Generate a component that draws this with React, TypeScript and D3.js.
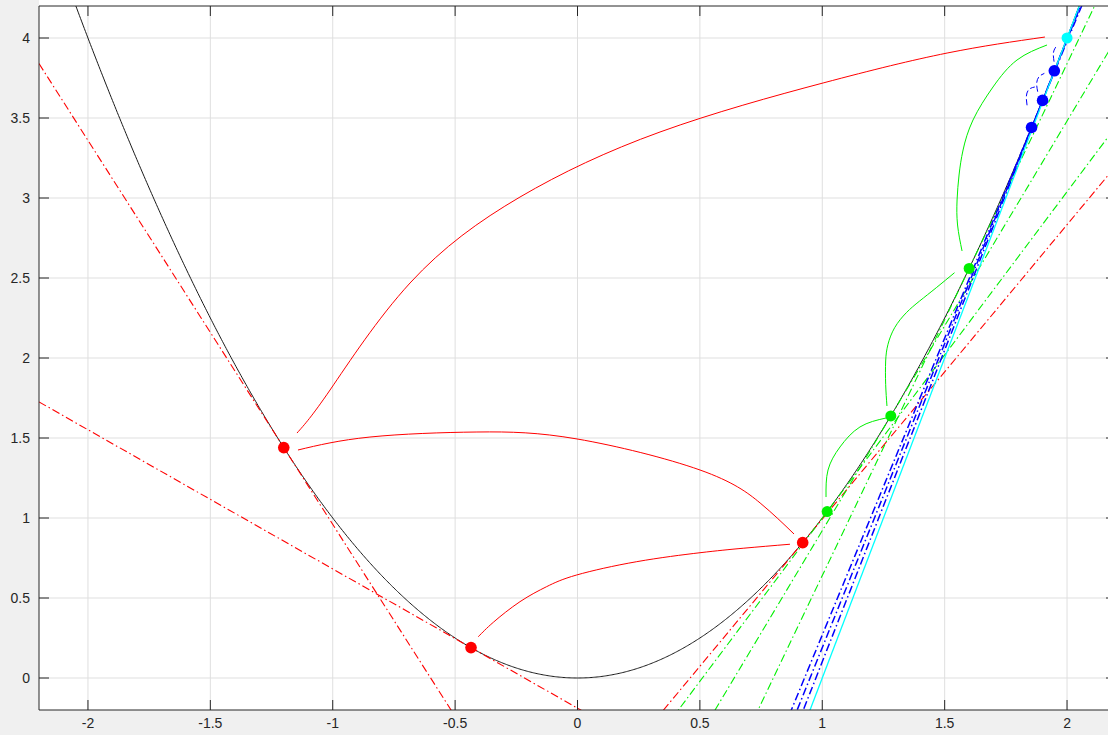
import React from 'react';
import * as d3 from 'd3';

const W = 1108;
const H = 735;

// axes limits and ticks
const xDomain: [number, number] = [-2.2, 2.2];
const yDomain: [number, number] = [-0.2, 4.2];
const xTicks = [-2, -1.5, -1, -0.5, 0, 0.5, 1, 1.5, 2];
const yTicks = [0, 0.5, 1, 1.5, 2, 2.5, 3, 3.5, 4];

// points on the curve (tangent points)
const redX = [-1.2, -0.435, 0.92];
const redY = [1.44, 0.19, 0.846];
const greenX = [1.02, 1.28, 1.6];
const greenY = [1.04, 1.638, 2.56];
const blueX = [1.855, 1.9, 1.948];
const blueY = [3.441, 3.61, 3.795];
const cyanX = [2];
const cyanY = [4];

// connecting arcs (data coordinates)
const redArcA: [number, number][] = [
  [-0.4053, 0.258], [-0.344, 0.348], [-0.235, 0.477], [-0.126, 0.571], [-0.003, 0.644],
  [0.242, 0.727], [0.5005, 0.783], [0.677, 0.811], [0.868, 0.836],
];
const redArcB: [number, number][] = [
  [-1.142, 1.425], [-0.848, 1.506], [-0.411, 1.5375], [-0.002, 1.494], [0.5005, 1.3], [0.746, 1.094], [0.8846, 0.9],
];
const redArcC: [number, number][] = [
  [-1.146, 1.531], [-1.011, 1.8], [-0.684, 2.469], [-0.235, 3.006],
  [0.337, 3.4125], [1.0035, 3.719], [1.51, 3.906], [1.9096, 4.006],
];
const greenArcA: [number, number][] = [
  [1.0153, 1.131], [1.0235, 1.3], [1.0725, 1.444], [1.154, 1.569], [1.2605, 1.625],
];
const greenArcB: [number, number][] = [
  [1.2643, 1.7], [1.259, 1.8356], [1.259, 1.9813], [1.2685, 2.0856], [1.2957, 2.1894],
  [1.3434, 2.2831], [1.3978, 2.3563], [1.4659, 2.4394], [1.5403, 2.5331],
];
const greenArcC: [number, number][] = [
  [1.5711, 2.6688], [1.5527, 2.8313], [1.5507, 2.9875], [1.5588, 3.1438], [1.5752, 3.3],
  [1.6158, 3.4875], [1.6975, 3.6938], [1.7956, 3.8625], [1.9182, 3.9563],
];
const blueArcA: [number, number][] = [[1.8366, 3.5794], [1.8339, 3.6375], [1.8448, 3.679], [1.8682, 3.6938]];
const blueArcB: [number, number][] = [[1.88, 3.6644], [1.876, 3.717], [1.8856, 3.758], [1.9073, 3.779]];
const blueArcC: [number, number][] = [[1.947, 3.852], [1.944, 3.904], [1.951, 3.936], [1.96, 3.956]];

const f = (x: number) => x * x;

const LEFT = 39;
const RIGHT = 1116;
const TOP = 6;
const BOTTOM = 710;

export default function App() {
  const x = d3.scaleLinear().domain(xDomain).range([LEFT, RIGHT]);
  const y = d3.scaleLinear().domain(yDomain).range([BOTTOM, TOP]);

  const curveXs = d3.range(xDomain[0], xDomain[1] + 0.0001, 0.005);
  const parabola = d3.line<number>().x((d) => x(d)).y((d) => y(f(d)))(curveXs) || '';

  const tangent = (a: number, b: number) => {
    const s = 2 * a;
    const pts: [number, number][] = xDomain.map((xx) => [xx, s * (xx - a) + b] as [number, number]);
    return d3.line<[number, number]>().x((d) => x(d[0])).y((d) => y(d[1]))(pts) || '';
  };

  const arcLine = d3
    .line<[number, number]>()
    .x((d) => x(d[0]))
    .y((d) => y(d[1]))
    .curve(d3.curveNatural);

  const dashDot = '8,3,1.5,3';
  const font = '"Liberation Sans", Arial, Helvetica, sans-serif';
  const axisColor = '#262626';
  const gridColor = '#dfdfdf';
  const tickLen = 10;
  const green = '#00f000';

  return (
    <svg width={W} height={H} style={{ position: 'absolute', left: 0, top: 0, display: 'block' }}>
      <defs>
        <clipPath id="plotClip">
          <rect x={LEFT} y={TOP} width={RIGHT - LEFT} height={BOTTOM - TOP} />
        </clipPath>
      </defs>
      <rect x={0} y={0} width={W} height={H} fill="#f0f0f0" />
      <rect x={LEFT} y={0} width={W - LEFT} height={BOTTOM} fill="#ffffff" />

      {/* grid */}
      <g stroke={gridColor} strokeWidth={1}>
        {xTicks.map((t) => (
          <line key={'gx' + t} x1={x(t)} x2={x(t)} y1={TOP} y2={BOTTOM} />
        ))}
        {yTicks.map((t) => (
          <line key={'gy' + t} x1={LEFT} x2={RIGHT} y1={y(t)} y2={y(t)} />
        ))}
      </g>

      <g clipPath="url(#plotClip)">
        <path d={parabola} fill="none" stroke="#1a1a1a" strokeWidth={1} />

        {redX.map((a, i) => (
          <path key={'rt' + i} d={tangent(a, redY[i])} fill="none" stroke="#ff0000" strokeWidth={1.1} strokeDasharray={dashDot} />
        ))}
        {greenX.map((a, i) => (
          <path key={'gt' + i} d={tangent(a, greenY[i])} fill="none" stroke={green} strokeWidth={1.1} strokeDasharray={dashDot} />
        ))}
        {blueX.map((a, i) => (
          <path key={'bt' + i} d={tangent(a, blueY[i])} fill="none" stroke="#0000ff" strokeWidth={1.5} strokeDasharray={dashDot} />
        ))}
        {cyanX.map((a, i) => (
          <path key={'ct' + i} d={tangent(a, cyanY[i])} fill="none" stroke="#00ffff" strokeWidth={1.3} />
        ))}

        {[redArcA, redArcB, redArcC].map((arc, i) => (
          <path key={'ra' + i} d={arcLine(arc) || ''} fill="none" stroke="#ff0000" strokeWidth={1} />
        ))}
        {[greenArcA, greenArcB, greenArcC].map((arc, i) => (
          <path key={'ga' + i} d={arcLine(arc) || ''} fill="none" stroke={green} strokeWidth={1} />
        ))}
        {[blueArcA, blueArcB, blueArcC].map((arc, i) => (
          <path key={'ba' + i} d={arcLine(arc) || ''} fill="none" stroke="#0000ff" strokeWidth={1} strokeDasharray="6,3" />
        ))}

        {redX.map((a, i) => (
          <circle key={'rp' + i} cx={x(a)} cy={y(redY[i])} r={5.8} fill="#ff0000" />
        ))}
        {greenX.map((a, i) => (
          <circle key={'gp' + i} cx={x(a)} cy={y(greenY[i])} r={5.5} fill={green} />
        ))}
        {blueX.map((a, i) => (
          <circle key={'bp' + i} cx={x(a)} cy={y(blueY[i])} r={5.8} fill="#0000ff" />
        ))}
        {cyanX.map((a, i) => (
          <circle key={'cp' + i} cx={x(a)} cy={y(cyanY[i])} r={5.5} fill="#00ffff" />
        ))}
      </g>

      {/* axes box */}
      <g stroke={axisColor} strokeWidth={1} fill="none">
        <line x1={LEFT} x2={RIGHT} y1={BOTTOM} y2={BOTTOM} />
        <line x1={LEFT} x2={RIGHT} y1={TOP} y2={TOP} />
        <line x1={LEFT} x2={LEFT} y1={TOP} y2={BOTTOM} />
        <line x1={RIGHT} x2={RIGHT} y1={TOP} y2={BOTTOM} />
        {xTicks.map((t) => (
          <g key={'xt' + t}>
            <line x1={x(t)} x2={x(t)} y1={BOTTOM} y2={BOTTOM - tickLen} />
            <line x1={x(t)} x2={x(t)} y1={TOP} y2={TOP + tickLen} />
          </g>
        ))}
        {yTicks.map((t) => (
          <g key={'yt' + t}>
            <line x1={LEFT} x2={LEFT + tickLen} y1={y(t)} y2={y(t)} />
            <line x1={RIGHT} x2={RIGHT - tickLen} y1={y(t)} y2={y(t)} />
          </g>
        ))}
      </g>

      <g fill={axisColor} fontFamily={font} fontSize={14}>
        {xTicks.map((t) => (
          <text key={'xl' + t} x={x(t)} y={BOTTOM + 18} textAnchor="middle">
            {String(t)}
          </text>
        ))}
        {yTicks.map((t) => (
          <text key={'yl' + t} x={LEFT - 9} y={y(t) + 5} textAnchor="end">
            {String(t)}
          </text>
        ))}
      </g>
    </svg>
  );
}
